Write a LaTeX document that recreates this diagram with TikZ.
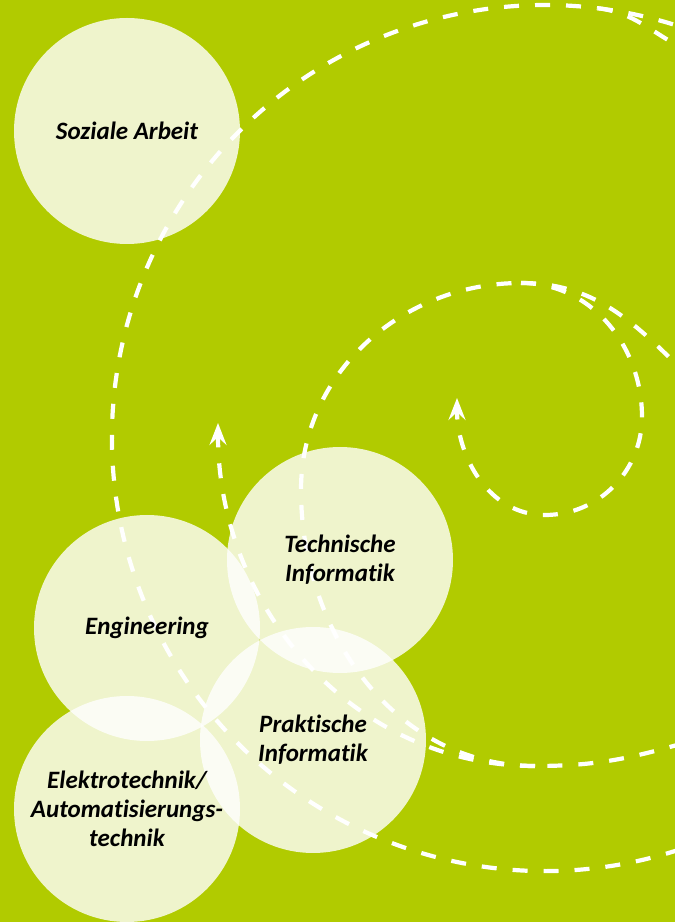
\documentclass[tikz,border=0pt]{standalone}
\usepackage{fontspec}
\setmainfont{Carlito}[Ligatures={NoCommon}]
\usepackage{xcolor}
\usetikzlibrary{positioning,calc,arrows.meta}
\definecolor{leaf}{RGB}{177,203,0}

\begin{document}
\begin{tikzpicture}[x=1pt, y=1pt,
    trail/.style = {white, line width=4.2pt, dash pattern=on 15pt off 16pt},
    tip/.style = {-{Stealth[length=22pt, width=17pt, inset=8pt]}},
    bubble/.style = {circle, minimum size=226pt, inner sep=0pt, fill=white,
      fill opacity=0.8, text opacity=1, align=center,
      font=\fontsize{25}{29}\selectfont\bfseries\itshape}]
  \useasboundingbox (0,0) rectangle (675,922);
  \fill[leaf] (0,0) rectangle (675,922);
  \clip (0,0) rectangle (675,922);

  \coordinate (o) at (545,484);
  \coordinate (a0) at ($(o)+(-71.8:433)$);
  \coordinate (a1) at ($(o)+(83:433)$);
  \coordinate (a2) at (684,873);

  \coordinate (c0) at (684,179);
  \coordinate (cb) at (535,156);
  \coordinate (cl) at (301,432);
  \coordinate (ct) at (521,639);
  \coordinate (cr) at (642,505);
  \coordinate (ci) at (545,407);
  \coordinate (ctip) at (457,524);
  \coordinate (cx) at (684,550);
  \coordinate (btip) at (218,499);

  \draw[trail] (a0) arc[start angle=-71.8, end angle=-277, radius=433];
  \draw[trail] (a1) arc[start angle=83, end angle=70, radius=433];
  \draw[trail] (a1) to[out=-7, in=153] (a2);

  \draw[trail] (c0) to[out=196, in=0] (cb);
  \draw[trail] (cb) to[out=180, in=270] (cl) to[out=90, in=180] (ct);
  \draw[trail, tip] (cb) to[out=180, in=270] (btip);
  \draw[trail, tip] (ct) to[out=0, in=90] (cr) to[out=270, in=0] (ci)
    to[out=180, in=270] (ctip);
  \draw[trail] (ct) to[out=0, in=135] (cx);

  \begin{scope}[on grid]
    \node[bubble] (eng) at (147,294) {Engineering};
    \node[bubble, above right=68pt and 193pt of eng] (ti) {Technische\\Informatik};
    \node[bubble, below right=112pt and 166pt of eng] (pi) {Praktische\\Informatik};
    \node[bubble, below left=181pt and 20pt of eng] (et)
      {Elektrotechnik/\\Automatisierungs-\\technik};
    \node[bubble, above left=497pt and 20pt of eng] (sa) {Soziale Arbeit};
  \end{scope}
\end{tikzpicture}
\end{document}
